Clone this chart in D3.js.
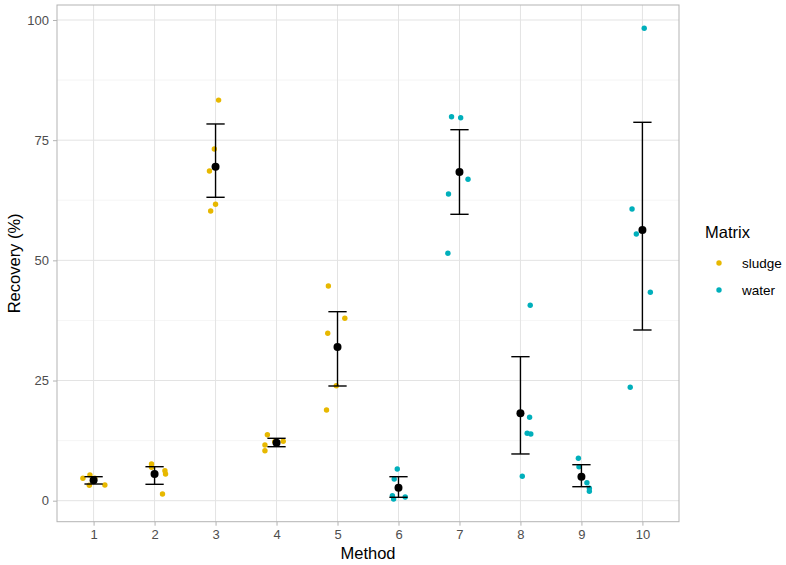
<!DOCTYPE html>
<html>
<head>
<meta charset="utf-8">
<script src="https://cdn.jsdelivr.net/npm/d3@7"></script>
<style>
  html, body { margin: 0; padding: 0; background: #fff; }
  svg text { font-family: "Liberation Sans", Arial, Helvetica, sans-serif; }
</style>
</head>
<body>
<svg id="chart" width="786" height="565"></svg>
<script>
// ---- data ----
const methods = [1, 2, 3, 4, 5, 6, 7, 8, 9, 10];
const matrixOfMethod = ["sludge", "sludge", "sludge", "sludge", "sludge", "water", "water", "water", "water", "water"];
const recoveryValues = [
  [4.66, 5.35, 3.20, 3.27, 4.70],
  [7.63, 6.95, 6.24, 5.55, 1.39],
  [83.34, 73.17, 68.59, 61.66, 60.27],
  [13.73, 11.59, 10.40, 12.36, 12.27],
  [44.67, 37.94, 34.82, 23.92, 18.87],
  [6.59, 4.51, 1.04, 0.35, 0.77],
  [79.88, 79.68, 66.86, 63.80, 51.47],
  [40.65, 17.35, 14.02, 13.88, 5.08],
  [8.82, 7.07, 3.74, 2.58, 1.96],
  [98.27, 60.68, 55.48, 43.35, 23.59]
];
// horizontal jitter of each replicate (in method units)
const jitterOffsets = [
  [-0.175, -0.06, -0.07, 0.185, 0.02],
  [-0.05, -0.05, 0.17, 0.18, 0.13],
  [0.05, -0.02, -0.10, 0.00, -0.08],
  [-0.15, -0.19, -0.19, 0.11, -0.03],
  [-0.15, 0.12, -0.16, -0.02, -0.18],
  [-0.02, -0.07, -0.10, -0.08, 0.11],
  [-0.13, 0.02, 0.14, -0.18, -0.19],
  [0.16, 0.15, 0.11, 0.17, 0.03],
  [-0.05, -0.04, 0.09, 0.13, 0.13],
  [0.03, -0.17, -0.10, 0.13, -0.20]
];
const meanValues = [4.24, 5.55, 69.48, 12.07, 31.97, 2.70, 68.38, 18.18, 4.99, 56.31];
const errLower = [3.47, 3.41, 63.12, 11.23, 23.86, 0.71, 59.58, 9.72, 2.91, 35.51];
const errUpper = [4.99, 7.07, 78.37, 12.98, 39.32, 4.99, 77.18, 29.96, 7.49, 78.72];
const yTicks = [0, 25, 50, 75, 100];
const yMinorTicks = [12.5, 37.5, 62.5, 87.5];
const matrixLevels = ["sludge", "water"];
const matrixColors = ["#E7B800", "#00AFBB"];

// ---- layout ----
const svg = d3.select("#chart");
const panel = { left: 57, right: 679, top: 5, bottom: 521.7 };

const x = d3.scaleLinear().domain([0.4, 10.6]).range([panel.left, panel.right]);
const y = d3.scaleLinear().domain([-4.37, 103.12]).range([panel.bottom, panel.top]);
const color = d3.scaleOrdinal().domain(matrixLevels).range(matrixColors);

svg.append("rect").attr("width", 786).attr("height", 565).attr("fill", "#fff");

// grid
const grid = svg.append("g");
grid.selectAll(".ymin").data(yMinorTicks).join("line")
  .attr("x1", panel.left).attr("x2", panel.right)
  .attr("y1", d => y(d)).attr("y2", d => y(d))
  .attr("stroke", "#EFEFEF").attr("stroke-width", 0.6);
grid.selectAll(".ymaj").data(yTicks).join("line")
  .attr("x1", panel.left).attr("x2", panel.right)
  .attr("y1", d => y(d)).attr("y2", d => y(d))
  .attr("stroke", "#E3E3E3").attr("stroke-width", 1);
grid.selectAll(".xmaj").data(methods).join("line")
  .attr("x1", d => x(d)).attr("x2", d => x(d))
  .attr("y1", panel.top).attr("y2", panel.bottom)
  .attr("stroke", "#E3E3E3").attr("stroke-width", 1);

// axes
const yAxis = d3.axisLeft(y).tickValues(yTicks).tickSize(4).tickPadding(4);
const gy = svg.append("g").attr("transform", `translate(${panel.left},0)`).call(yAxis);
const xAxis = d3.axisBottom(x).tickValues(methods).tickSize(4).tickPadding(4);
const gx = svg.append("g").attr("transform", `translate(0,${panel.bottom})`).call(xAxis);
[gx, gy].forEach(g => {
  g.select(".domain").remove();
  g.selectAll(".tick line").attr("stroke", "#B3B3B3");
  g.selectAll(".tick text").attr("fill", "#4D4D4D").style("font-size", "13px");
});

// panel border
svg.append("rect")
  .attr("x", panel.left).attr("y", panel.top)
  .attr("width", panel.right - panel.left).attr("height", panel.bottom - panel.top)
  .attr("fill", "none").attr("stroke", "#B3B3B3").attr("stroke-width", 1);

// jittered replicate points
const pts = [];
methods.forEach((m, i) => {
  recoveryValues[i].forEach((v, j) => {
    pts.push({ m, v, dx: jitterOffsets[i][j], matrix: matrixOfMethod[i] });
  });
});
svg.append("g").selectAll("circle").data(pts).join("circle")
  .attr("cx", d => x(d.m + d.dx)).attr("cy", d => y(d.v))
  .attr("r", 2.7).attr("fill", d => color(d.matrix));

// error bars
const summary = methods.map((m, i) => ({ m, mean: meanValues[i], lo: errLower[i], hi: errUpper[i] }));
const eb = svg.append("g").attr("stroke", "#000").attr("stroke-width", 1.4).attr("fill", "none");
const capHalf = 0.15;
eb.selectAll(".v").data(summary).join("line")
  .attr("x1", d => x(d.m)).attr("x2", d => x(d.m))
  .attr("y1", d => y(d.lo)).attr("y2", d => y(d.hi));
eb.selectAll(".t").data(summary).join("line")
  .attr("x1", d => x(d.m - capHalf)).attr("x2", d => x(d.m + capHalf))
  .attr("y1", d => y(d.hi)).attr("y2", d => y(d.hi));
eb.selectAll(".b").data(summary).join("line")
  .attr("x1", d => x(d.m - capHalf)).attr("x2", d => x(d.m + capHalf))
  .attr("y1", d => y(d.lo)).attr("y2", d => y(d.lo));

// mean points
svg.append("g").selectAll("circle").data(summary).join("circle")
  .attr("cx", d => x(d.m)).attr("cy", d => y(d.mean))
  .attr("r", 4).attr("fill", "#000");

// axis titles
svg.append("text")
  .attr("x", (panel.left + panel.right) / 2).attr("y", 559)
  .attr("text-anchor", "middle").style("font-size", "16.5px").attr("fill", "#000")
  .text("Method");
svg.append("text")
  .attr("transform", `translate(20,${(panel.top + panel.bottom) / 2}) rotate(-90)`)
  .attr("text-anchor", "middle").style("font-size", "16.5px").attr("fill", "#000")
  .text("Recovery (%)");

// legend
const lg = svg.append("g");
lg.append("text").attr("x", 705).attr("y", 238)
  .style("font-size", "16.5px").attr("fill", "#000").text("Matrix");
matrixLevels.forEach((lvl, i) => {
  const cy = 263 + i * 27;
  lg.append("circle").attr("cx", 719).attr("cy", cy).attr("r", 2.7).attr("fill", color(lvl));
  lg.append("text").attr("x", 742).attr("y", cy).attr("dy", "0.35em")
    .style("font-size", "13.5px").attr("fill", "#000").text(lvl);
});
</script>
</body>
</html>
